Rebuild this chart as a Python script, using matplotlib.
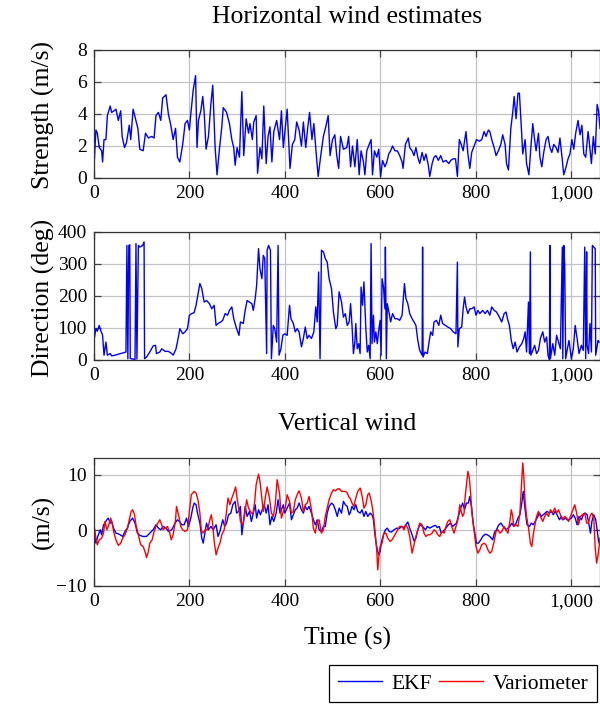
import matplotlib
matplotlib.use("Agg")
import matplotlib.pyplot as plt
from matplotlib.ticker import FuncFormatter, FixedLocator

# ---------------- data ----------------
t_strength = [0,4,7,11,16,18,21,25,28,34, 37,42,46,51,56,59,64,68,74,77,
              82,87,92,96,103,108,114,121,126,130, 135,140,144,151,156,161,166,171,175,180,
              186,191,196,200,203,208,213,216,219,224, 228,231,235,240,245,249,254,258,263,268,
              271,278,284,289,293,296,300,305,310,314, 319,324,327,332,335,340,343,348,352,356,
              361,365,369,373,377,383,389,393,397,400, 405,411,416,421,425,430,435,439,444,448,
              452,457,461,466,470,475,481,486,491,495, 500,505,509,513,517,523,530,534,537,
              538,542,547,552,556,560,565,568,572,577, 581,584,588,593,597,601,605,610,614,618,
              622,626,631,636,641,646,648,653,659,662, 667,671,675,679,683,688,692,696,701,704,
              709,713,717,722,727,732,738,744,748,753, 758,762,766,770,774,780,784,788,792,797,
              802,808,813,818,822,827,830,834,839,843, 848,853,857,862,865,869,874,878,881,885,
              889,892,896,899,904,907,912,916,920,923, 927,932,935,939,943,948,952,956,960,964,
              969,973,977,981,985,990,994,998,1002,1006, 1010,1015,1019,1023,1027,1031,1036,1038,1043,1047,
              1051,1055,1058,1061]
strength = [0.7,3.0,2.8,1.9,1.7,1.0,2.4,2.4,3.9,4.5, 4.1,4.2,4.3,3.6,4.2,2.6,1.9,2.2,3.3,2.4,
            4.3,3.7,3.1,1.8,1.7,2.8,2.5,2.6,2.5,3.9, 4.1,3.6,5.0,5.2,4.0,3.3,2.4,3.1,1.3,1.0,
            2.1,3.4,3.6,3.0,4.0,5.5,6.4,1.9,3.6,4.2, 5.1,4.1,1.8,2.6,4.6,5.8,1.9,0.2,1.8,3.2,
            4.4,4.1,3.4,2.4,1.9,0.8,1.9,1.3,5.4,1.4, 3.7,2.8,3.4,2.4,3.5,3.9,0.3,1.9,1.2,4.5,
            0.9,2.6,3.2,1.0,2.9,3.6,2.4,4.2,1.9,2.8, 4.3,0.6,2.1,2.4,3.5,3.0,2.0,3.5,1.9,3.1,
            4.1,2.4,3.4,1.5,0.1,1.3,2.6,3.2,3.9,1.4, 2.4,2.7,1.4,0.6,2.6,1.8,1.9,2.6,1.2,
            0.7,2.0,0.7,2.4,0.2,1.7,1.0,0.2,1.7,2.1, 2.4,0.2,1.7,1.3,1.8,0.1,1.1,0.7,1.0,1.5,
            1.7,2.0,1.7,1.7,1.4,1.0,0.6,2.1,2.5,1.9, 1.7,1.4,1.9,1.3,0.9,1.6,1.1,1.5,0.8,0.1,
            0.9,1.3,1.4,1.1,1.4,1.0,1.1,0.9,1.1,1.2, 1.2,0.1,2.4,2.1,1.7,2.9,1.5,0.6,1.6,2.0,
            2.4,2.3,2.4,2.9,2.6,3.0,2.9,2.4,1.9,1.4, 1.7,2.1,2.7,2.1,0.9,0.5,3.1,4.1,5.1,3.7,
            5.3,5.3,3.2,1.5,2.4,0.9,0.2,1.9,3.4,2.6, 1.7,2.8,1.3,0.7,1.6,2.4,2.6,1.9,1.6,2.1,
            1.9,1.6,2.5,1.4,0.2,0.7,1.2,1.5,2.4,1.8, 2.8,3.6,2.7,3.3,1.5,1.3,2.9,2.4,0.9,2.6,
            1.5,4.6,4.2,3.1]

t_direction = [0,4,7,11,14,18,21,25,28,34, 37,44,55,61,67,69,71,73,75,76,
               81,86,88,90,93,96,102,105,106,110, 117,124,129,131,138,142,149,156,163,166,
               172,177,180,186,191,196,200,205,210,214, 219,222,226,231,236,242,247,252,256,260,
               266,270,275,280,284,289,293,299,304,307, 313,317,321,326,331,334,338,341,345,348,
               352,355,358,362,363,366,370,372,376,379, 383,386,388,392,396,400,405,410,413,418,
               422,426,430,435,439,443,447,451,456,461, 465,468,471,474,477,481,485,489,493,498,
               502,507,510,514,519,523,527,531,535,538, 541,544,547,549,552,555,558,560,563,566,
               570,573,576,579,581,583,586,588,591,594, 597,600,602,604,607,610,611,613,615,619,
               622,626,631,636,641,646,648,651,654,658, 662,667,671,675,679,683,688,689,690,694,
               699,703,706,710,713,718,723,727,731,737, 742,748,753,759,762,763,766,771,774,777,
               780,784,788,792,797,801,805,809,815,820, 825,830,834,839,844,850,855,860,864,867,
               871,875,879,883,887,892,897,901,904,907, 911,913,915,916,920,924,928,932,936,941,
               945,949,952,955,956,957,962,966,970,974, 978,982,983,985,987,989,992,996,1001,1005,
               1009,1013,1017,1022,1026,1029,1031,1033,1034,1037, 1040,1043,1045,1048,1051,1052,1057,1059]
direction = [61,98,90,108,93,77,15,56,15,20, 13,15,20,22,25,358,4,358,360,5,
             3,2,364,3,358,353,358,369,4,9, 25,44,46,20,25,35,27,27,20,15,
             35,72,98,82,88,98,140,145,148,171, 213,239,223,181,186,176,160,171,108,114,
             119,124,145,140,155,166,129,98,77,119, 114,155,186,181,176,155,192,233,348,285,
             254,327,317,20,343,358,343,4,108,98, 56,358,15,35,77,82,77,171,129,114,
             88,98,88,41,67,103,67,77,67,88, 166,119,275,4,343,338,317,306,254,223,
             150,98,108,213,181,134,145,108,119,176, 108,20,56,114,35,51,20,228,171,244,
             98,25,46,4,364,51,140,56,88,51, 93,124,15,254,228,160,353,4,176,145,
             119,145,129,129,124,140,181,239,192,176, 145,129,119,108,61,30,15,353,9,25,
             20,61,88,77,119,124,108,140,114,108, 103,98,88,82,306,41,98,103,160,197,
             166,145,160,160,166,140,155,145,155,145, 155,140,166,155,150,134,119,145,150,129,
             108,61,35,56,25,41,51,67,88,25, 181,20,338,15,30,46,20,30,67,88,
             56,72,15,0,358,4,51,15,77,56, 35,353,4,358,296,4,30,61,4,35,
             108,67,20,46,30,353,4,338,46,20, 114,25,358,353,348,15,61,56]

t_ekf = [0,4,8,13,16,20,23,27,30,34, 37,41,46,53,60,65,70,75,81,86,
         91,96,103,110,117,124,130,135,140,145, 151,156,163,170,175,179,184,189,194,198,
         203,207,210,214,217,222,226,229,233,236, 240,245,250,256,260,264,270,274,278,282,
         287,291,296,299,303,307,310,314,317,321, 326,330,334,338,341,345,349,354,357,361,
         365,369,373,377,382,386,390,393,397,400, 405,410,414,418,422,426,430,435,439,443,
         447,451,456,460,464,468,472,477,481,485, 489,493,498,502,506,510,514,519,523,527,
         531,535,
         537,541,545,549,553,558,562,566,570,574, 579,583,586,588,591,594,597,600,603,607,
         611,615,619,624,629,635,640,645,650,654, 658,662,667,671,675,679,683,689,695,699,
         704,710,716,720,724,728,732,738,743,748, 752,756,760,764,769,773,777,781,785,788,
         792,795,799,802,806,811,815,820,825,830, 836,840,844,848,853,858,864,868,872,876,
         880,885,889,893,897,900,904,908,913,917, 921,925,929,934,938,942,946,950,955,959,
         963,967,971,976,980,984,988,992,996,1001, 1005,1009,1013,1017,1022,1026,1030,1034,1038,1041,
         1044,1048,1052,1055,1058,1061]
w_ekf = [-0.2,-2.3,-1.1,0.1,-0.8,1.0,1.3,1.9,2.2,1.3, 1.6,0.4,-0.5,-0.7,-1.1,-0.2,0.4,1.6,2.2,1.3,
         -0.5,-0.9,-1.1,-1.1,-0.5,0.1,1.0,0.4,0.1,0.7, 0.4,-0.2,0.1,1.3,1.9,1.6,1.0,1.0,2.2,0.7,
         2.2,4.0,4.9,4.6,3.1,1.3,-1.4,-2.3,-0.2,1.3, 0.1,0.7,0.1,1.0,-1.1,-0.2,1.9,0.7,1.3,2.8,
         3.1,4.6,5.2,3.1,3.4,4.3,-0.8,1.9,4.3,2.5, 3.4,1.6,3.1,4.6,2.2,3.7,2.8,4.0,4.6,3.1,
         4.6,1.0,2.5,1.6,3.1,5.5,3.1,3.7,4.6,3.1, 4.0,4.9,1.9,2.8,3.7,4.0,4.9,3.7,3.1,4.3,
         3.7,4.3,3.1,1.9,1.0,1.9,0.1,-0.2,0.7,0.7, 3.1,4.3,4.9,4.6,3.7,2.5,4.0,3.1,5.2,4.6,
         4.3,2.8,
         3.1,4.3,3.7,4.6,3.4,3.1,3.7,2.5,3.4,2.5, 3.1,2.8,1.9,0.1,-2.0,-3.5,-4.4,-3.8,-2.0,-0.8,
         0.1,0.4,-0.2,-0.3,0.1,0.4,0.3,0.7,0.5,1.0, 1.5,0.4,-0.8,-1.9,-1.4,0.1,1.0,0.7,0.1,0.7,
         0.4,0.7,0.9,0.5,0.7,-0.5,-0.2,0.4,1.0,1.3, 0.7,1.0,1.3,2.5,4.0,4.9,3.7,4.9,4.9,6.1,
         4.0,1.3,-0.8,-2.3,-2.3,-1.7,-1.1,-0.7,-0.8,-1.1, -1.7,-0.3,0.1,0.9,1.3,0.7,0.1,0.4,0.7,1.3,
         0.7,1.3,2.2,2.8,4.9,7.0,3.7,1.0,0.7,1.3, 1.0,1.6,2.2,3.1,2.5,2.8,3.1,3.4,3.1,3.4,
         2.8,3.4,2.8,1.9,2.5,1.9,2.2,1.9,1.9,2.2, 2.8,2.2,1.0,2.5,1.9,2.8,3.1,2.8,1.0,-0.5,
         1.6,2.8,1.9,0.1,-2.0,-2.6]

t_vario = [0,3,7,11,16,20,23,27,31,35, 38,42,46,51,56,60,65,70,74,78,
           81,85,88,93,98,103,108,110,114,117, 122,126,130,134,138,142,145,149,154,158,
           162,166,171,173,178,182,186,191,196,200, 204,210,214,218,222,225,228,233,238,242,
           246,249,252,256,260,264,268,273,277,281, 285,289,293,297,300,305,307,312,316,320,
           324,328,333,337,340,345,348,352,355,359, 363,368,372,376,380,384,389,393,397,401,
           405,410,414,418,422,426,430,435,439,443, 447,451,456,460,464,468,472,477,481,485,
           489,493,498,502,506,510,514,519,523,527, 531,535,
           537,541,545,549,553,558,560,563,566,570, 574,577,580,584,587,590,593,595,597,600,
           604,608,612,616,621,625,629,633,637,641, 646,650,654,658,662,667,671,675,679,683,
           688,692,696,700,704,709,713,717,721,725, 730,734,738,742,746,750,755,759,763,767,
           770,773,776,778,781,784,787,790,792,795, 798,801,805,809,813,818,822,826,830,834,
           839,843,847,851,855,860,864,868,872,875, 878,880,885,889,893,896,899,901,904,907,
           910,913,915,918,921,924,928,932,936,941, 945,949,953,957,962,966,970,974,978,982,
           987,991,995,999,1003,1008,1012,1016,1020,1024, 1029,1033,1037,1040,1044,1048,1051,1054,1057,1061]
w_vario = [1.0,-0.8,-2.6,-1.7,-1.4,-0.5,1.6,0.1,1.0,2.2, 1.3,-0.5,-1.7,-2.7,-2.3,-1.4,-0.8,0.4,1.9,3.4,
           3.7,2.8,1.0,-0.8,-2.6,-2.9,-4.1,-4.9,-3.8,-2.3, -1.7,-0.2,0.7,1.3,1.9,1.0,0.1,0.4,0.7,-0.2,
           -1.7,-0.8,1.9,4.3,2.5,0.7,0.1,-0.2,0.1,3.4, 6.4,7.0,6.7,5.5,3.1,0.1,-0.5,0.1,0.1,1.6,
           2.8,1.0,-2.0,-4.4,-3.2,-2.3,-0.8,0.1,2.8,5.8, 4.6,5.8,6.7,7.8,5.8,3.1,1.6,1.0,2.8,5.5,
           4.0,3.4,2.8,5.2,8.2,10.1,8.8,5.8,3.4,5.8, 7.8,5.8,3.1,2.5,4.6,9.1,6.7,2.2,3.4,4.0,
           6.4,5.2,3.1,3.4,5.5,6.4,7.1,5.8,3.4,4.6, 4.9,6.1,3.7,0.4,-0.5,1.6,1.9,-0.5,0.1,2.5,
           4.0,5.5,6.7,7.3,7.1,7.4,7.5,7.0,7.0,7.0, 6.7,5.9,
           5.8,4.9,4.3,5.8,7.0,7.6,7.0,5.8,4.0,4.6, 6.4,6.7,5.8,4.0,1.9,-0.8,-3.8,-7.1,-5.0,-2.9,
           -2.3,-0.5,-0.5,-1.4,-2.0,-1.7,-1.1,-0.5,0.1,0.7, 0.7,0.1,1.0,0.4,-1.1,-4.1,-2.6,-1.1,0.1,1.3,
           1.0,-0.5,-1.1,-0.8,-0.8,-0.5,0.1,-0.2,-0.8,-1.1, -0.2,-0.5,0.7,1.6,1.9,0.7,-0.5,0.7,1.9,4.6,
           3.4,2.5,3.1,5.8,8.2,10.6,9.4,6.4,3.4,1.3, -0.8,-2.9,-4.1,-3.5,-2.6,-2.3,-2.6,-3.5,-4.1,-3.8,
           -2.0,-0.2,0.1,-0.5,-0.2,0.7,0.1,-0.5,1.6,3.7, 2.5,0.7,1.0,0.7,3.1,7.6,12.1,10.0,5.2,2.5,
           1.0,-0.8,-2.3,-2.9,-0.8,0.7,2.5,3.4,2.5,1.6, 2.5,3.1,2.5,3.7,3.1,4.0,3.1,3.7,2.8,1.9,
           2.5,2.2,1.6,2.5,3.4,4.6,3.1,1.0,2.5,2.8, 3.1,1.3,1.3,2.5,3.1,2.2,-3.2,-5.9,-4.4,-1.4]

x_ticks = [0, 200, 400, 600, 800, 1000]
strength_ticks = [0, 2, 4, 6, 8]
direction_ticks = [0, 100, 200, 300, 400]
vertical_ticks = [-10, 0, 10]

# ---------------- style ----------------
plt.rcParams['font.family'] = ['Liberation Serif', 'DejaVu Serif']
plt.rcParams['axes.unicode_minus'] = True
TICK_FS = 14
LABEL_FS = 18.5

W, H = 600, 704
fig = plt.figure(figsize=(W / 100, H / 100), dpi=100)

def make_axes(top, bottom):
    left, right = 94, 600
    return fig.add_axes([left / W, 1 - bottom / H, (right - left) / W, (bottom - top) / H])

ax1 = make_axes(50, 178)
ax2 = make_axes(232, 360)
ax3 = make_axes(458, 586)

comma_fmt = FuncFormatter(lambda v, p: f"{int(v):,}")

def style(ax, yticks, ylim):
    ax.set_xlim(0, 1061)
    ax.set_ylim(*ylim)
    ax.xaxis.set_major_locator(FixedLocator(x_ticks))
    ax.yaxis.set_major_locator(FixedLocator(yticks))
    ax.xaxis.set_major_formatter(comma_fmt)
    ax.grid(True, color='#c4c4c4', linewidth=0.9)
    ax.set_axisbelow(True)
    ax.tick_params(direction='in', length=5, width=0.9, color='#444444',
                   labelsize=TICK_FS, top=True, right=True, pad=5)
    for s in ax.spines.values():
        s.set_color('#333333')
        s.set_linewidth(0.9)

style(ax1, strength_ticks, (0, 8))
style(ax2, direction_ticks, (0, 400))
style(ax3, vertical_ticks, (-10, 13))

ax1.plot(t_strength, strength, color='blue', lw=1.0)
ax2.plot(t_direction, direction, color='blue', lw=1.0)
l_ekf, = ax3.plot(t_ekf, w_ekf, color='blue', lw=1.0)
l_var, = ax3.plot(t_vario, w_vario, color='red', lw=1.0)

fig.text(347 / W, 1 - 17 / H, "Horizontal wind estimates", ha='center', va='center', fontsize=LABEL_FS)
fig.text(347 / W, 1 - 424 / H, "Vertical wind", ha='center', va='center', fontsize=LABEL_FS)
fig.text(347 / W, 1 - 638 / H, "Time (s)", ha='center', va='center', fontsize=LABEL_FS)
fig.text(43 / W, 1 - 115 / H, "Strength (m/s)", rotation=90, ha='center', va='center', fontsize=LABEL_FS)
fig.text(43 / W, 1 - 298 / H, "Direction (deg)", rotation=90, ha='center', va='center', fontsize=LABEL_FS)
fig.text(43 / W, 1 - 522 / H, "(m/s)", rotation=90, ha='center', va='center', fontsize=LABEL_FS)

leg = fig.legend([l_ekf, l_var], ["EKF", "Variometer"], ncol=2, loc='upper right',
                 bbox_to_anchor=(597 / W, 1 - 665 / H), fontsize=15.5,
                 frameon=True, fancybox=False, edgecolor='black', framealpha=1,
                 handlelength=2.05, handletextpad=0.45, columnspacing=0.3,
                 borderpad=0.4, borderaxespad=0)
leg.get_frame().set_linewidth(0.9)

fig.savefig("out.png", dpi=100)
